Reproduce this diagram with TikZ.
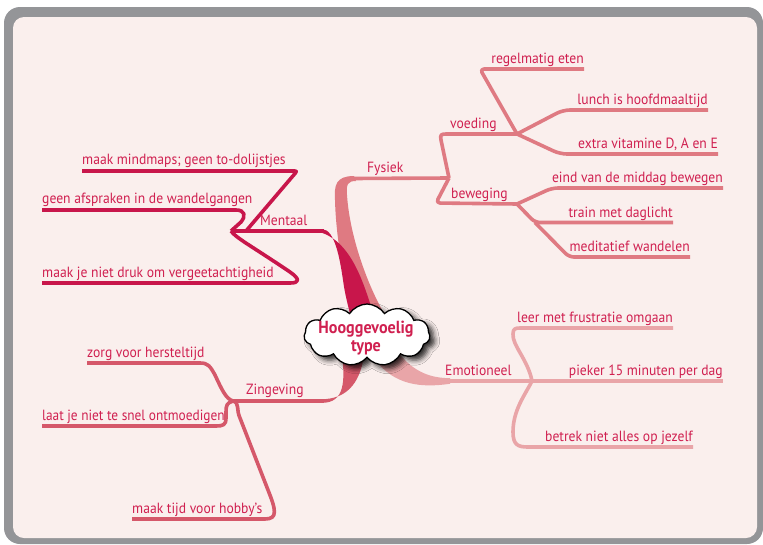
\documentclass[tikz,border=0pt]{standalone}
\usepackage{fontspec}
\setmainfont[FakeStretch=0.92]{PT Sans}
\usetikzlibrary{shapes.symbols,shadows.blur}
\definecolor{frame}{RGB}{148,149,152}
\definecolor{bg}{RGB}{250,239,237}
\definecolor{txt}{RGB}{208,32,80}
\definecolor{cMen}{RGB}{200,22,75}
\definecolor{cFys}{RGB}{223,122,130}
\definecolor{cEmo}{RGB}{233,165,168}
\definecolor{cZin}{RGB}{213,88,106}
\begin{document}
\begin{tikzpicture}[x=1pt,y=-1pt,
  lbl/.style={text=txt,inner sep=0pt,font=\fontsize{14.8}{17}\selectfont},
  br/.style={line width=3.6pt,line cap=butt,line join=round},
]
\useasboundingbox (0,0) rectangle (763,544);
\fill[frame,rounded corners=16pt] (4,7) rectangle (763,544);
\fill[bg,rounded corners=11pt] (13,17) rectangle (757,538);

% junction coordinates
\coordinate (jM) at (231,231);
\coordinate (jF) at (449,178);
\coordinate (jV) at (517,134);
\coordinate (jB) at (517,204);
\coordinate (jE) at (532,381);
\coordinate (jZ) at (233,401);

% ---- Fysiek (salmon) ----
\fill[cFys] (354,176) .. controls (336,176) and (334,185) .. (335,200)
   .. controls (336,240) and (345,285) .. (352,315) -- (385,315)
   .. controls (370,290) and (350,240) .. (347,195)
   .. controls (346,184) and (348,181) .. (356,181) -- cycle;
\draw[br,cFys] (352,178.5) -- (jF);
\draw[br,cFys] (jF) -- (441,140) .. controls (440,135) and (441,134) .. (446,134) -- (jV);
\draw[br,cFys,rounded corners=4pt] (jF) -- (436,203) -- (jB);
\draw[br,cFys,rounded corners=4pt] (jV) -- (480,69) -- (584,69);
\draw[br,cFys,rounded corners=7pt] (jV) -- (563,110) -- (708,110);
\draw[br,cFys,rounded corners=7pt] (jV) -- (560,154) -- (718,154);
\draw[br,cFys,rounded corners=6pt] (jB) -- (552,188) -- (723,188);
\draw[br,cFys,rounded corners=5pt] (jB) -- (535,222.5) -- (673,222.5);
\draw[br,cFys,rounded corners=5pt] (535,222.5) -- (569,257) -- (690,257);

% ---- Mentaal (crimson) ----
\fill[cMen] (322,229.2) .. controls (335,229) and (340,260) .. (343,280)
   .. controls (345,295) and (348,305) .. (350,314) -- (374,314)
   .. controls (366,295) and (356,245) .. (322,232.8) -- cycle;
\draw[br,cMen] (324,231) -- (jM);
\draw[br,cMen] (246,231) -- (292,177) .. controls (298,170) and (298,171) .. (290,171) -- (82,171);
\draw[br,cMen] (42,210) -- (236,210) .. controls (245,210) and (246,216) .. (241,222) -- (jM);
\draw[br,cMen] (jM) .. controls (236,238) and (250,245) .. (290,272)
   .. controls (300,279) and (300,283) .. (290,283) -- (42,283);

% ---- Zingeving ----
\fill[cZin] (342,355) -- (364,355) .. controls (360,385) and (345,399) .. (322,399.2)
   -- (322,402.8) .. controls (345,403) and (345,380) .. (342,355) -- cycle;
\draw[br,cZin] (324,401) -- (jZ);
\draw[br,cZin] (jZ) .. controls (226,399) and (222,390) .. (215,375)
   .. controls (210,366) and (208,363) .. (200,363) -- (87,363);
\draw[br,cZin] (jZ) .. controls (227,403) and (226,405) .. (226,412) -- (226,418)
   .. controls (226,425) and (223,426) .. (216,426) -- (42,426);
\draw[br,cZin] (jZ) .. controls (240,403) and (236,410) .. (240,418) -- (268,490)
   .. controls (276,510) and (278,519) .. (265,519) -- (132,519);

% ---- Emotioneel ----
\fill[cEmo] (375,350) -- (400,355) .. controls (415,372) and (430,378) .. (450,378.2)
   -- (450,383.8) .. controls (420,388) and (395,385) .. (375,360) -- cycle;
\draw[br,cEmo] (448,381) -- (jE);
\draw[br,cEmo] (jE) .. controls (528,360) and (512,345) .. (513,334)
   .. controls (513,329) and (515,328) .. (520,328) -- (673,328);
\draw[br,cEmo] (jE) -- (723,381);
\draw[br,cEmo] (jE) .. controls (525,395) and (513,410) .. (513,432)
   .. controls (513,445) and (518,447) .. (528,447) -- (693,447);

% ---- central cloud ----
\node[cloud, cloud puffs=11, cloud puff arc=115, aspect=2.1, draw=black, line width=1.3pt,
  fill=white, minimum width=126pt, minimum height=62pt, inner sep=0pt,
  blur shadow={shadow xshift=5pt, shadow yshift=-4pt, shadow blur radius=5pt, shadow opacity=80}]
  (cloud) at (367,335) {};
\node[text=txt, font=\fontsize{17.5}{20}\selectfont\bfseries, align=center, inner sep=0pt]
  (ctext) at (366,338) {Hooggevoelig\\[-2pt]type};

% ---- labels ----
\node[lbl,anchor=base west] (lMen) at (260,225) {Mentaal};
\node[lbl,anchor=base west] (lFys) at (367,172) {Fysiek};
\node[lbl,anchor=base west] (lEmo) at (445,375) {Emotioneel};
\node[lbl,anchor=base west] (lZin) at (246,394) {Zingeving};

\node[lbl,anchor=base west] (m1) at (82,164) {maak mindmaps; geen to-dolijstjes};
\node[lbl,anchor=base west] (m2) at (42,203) {geen afspraken in de wandelgangen};
\node[lbl,anchor=base west] (m3) at (42,277) {maak je niet druk om vergeetachtigheid};

\node[lbl,anchor=base west] (fv) at (450,128) {voeding};
\node[lbl,anchor=base west] (fb) at (451,198) {beweging};
\node[lbl,anchor=base east] (f1) at (584,63) {regelmatig eten};
\node[lbl,anchor=base east] (f2) at (708,104) {lunch is hoofdmaaltijd};
\node[lbl,anchor=base east] (f3) at (718,148) {extra vitamine D, A en E};
\node[lbl,anchor=base east] (f4) at (723,182) {eind van de middag bewegen};
\node[lbl,anchor=base east] (f5) at (673,217) {train met daglicht};
\node[lbl,anchor=base east] (f6) at (690,251) {meditatief wandelen};

\node[lbl,anchor=base east] (e1) at (673,322) {leer met frustratie omgaan};
\node[lbl,anchor=base east] (e2) at (723,375) {pieker 15 minuten per dag};
\node[lbl,anchor=base east] (e3) at (693,441) {betrek niet alles op jezelf};

\node[lbl,anchor=base west] (z1) at (87,357) {zorg voor hersteltijd};
\node[lbl,anchor=base west,xscale=0.98] (z2) at (42,420) {laat je niet te snel ontmoedigen};
\node[lbl,anchor=base west] (z3) at (132,513) {maak tijd voor hobby’s};
\end{tikzpicture}
\end{document}
